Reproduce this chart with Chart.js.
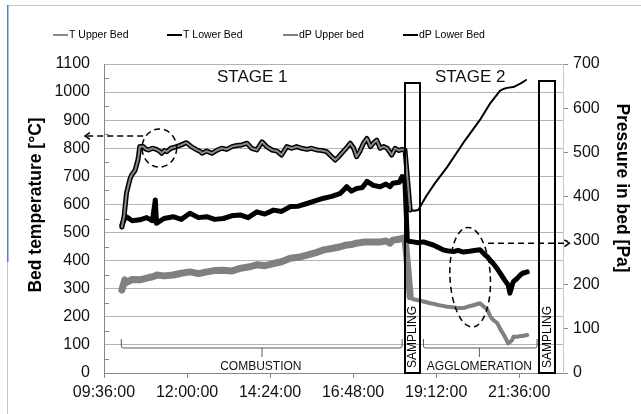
<!DOCTYPE html>
<html>
<head>
<meta charset="utf-8">
<script src="https://cdn.jsdelivr.net/npm/chart.js@4.4.1/dist/chart.umd.min.js"></script>
<style>
  html, body { margin: 0; padding: 0; background: #fff; }
  #wrap { position: relative; width: 641px; height: 414px; }
</style>
</head>
<body>
<div id="wrap"><canvas id="c" width="641" height="414"></canvas></div>
<script>
// time in minutes since midnight (09:36 = 576)
const tTime = [607, 611, 615, 621, 624, 630, 635, 638, 644, 648, 653, 660, 667, 672, 676, 681, 685, 692, 702, 710,
  719, 728, 737, 742, 746, 754, 763, 771, 780, 789, 798, 806, 815, 824, 832, 841, 850, 858, 867, 876,
  884, 893, 902, 910, 919, 928, 936, 945, 954, 962, 971, 977, 983, 988, 996, 1003, 1009, 1014, 1020, 1026,
  1032, 1038, 1044, 1049, 1055, 1061, 1067, 1075, 1081, 1087, 1093, 1098, 1102, 1107,
  1114, 1121, 1135, 1150, 1171, 1199, 1228, 1246, 1263, 1270, 1275, 1286, 1298, 1308]
const tUpper = [520, 560, 640, 690, 705, 722, 760, 806, 806, 798, 794, 800, 796, 790, 782, 792, 788, 800, 806, 812,
  820, 805, 794, 790, 782, 790, 782, 792, 800, 796, 806, 810, 812, 818, 800, 794, 823, 806, 794, 790,
  776, 806, 800, 806, 800, 796, 800, 794, 792, 788, 770, 758, 770, 782, 800, 818, 800, 770, 790, 818,
  835, 806, 820, 829, 800, 806, 800, 776, 800, 792, 796, 794, 700, 580,
  null, null, null, null, null, null, null, null, null, null, null, null, null, null]
const tLower = [520, 560, 640, 690, 705, 722, 760, 806, 806, 798, 794, 800, 796, 790, 782, 792, 788, 800, 806, 812,
  820, 805, 794, 790, 782, 790, 782, 792, 800, 796, 806, 810, 812, 818, 800, 794, 823, 806, 794, 790,
  776, 806, 800, 806, 800, 796, 800, 794, 792, 788, 770, 758, 770, 782, 800, 818, 800, 770, 790, 818,
  835, 806, 820, 829, 800, 806, 800, 776, 800, 792, 796, 794, 700, 580,
  578, 580, 630, 676, 733, 819, 901, 961, 1005, 1012, 1015, 1018, 1030, 1043]

const dpTime = [607, 612, 615, 625, 638, 650, 660, 665, 667, 680, 696, 710, 725, 740, 754, 768, 783, 797, 812, 826,
  841, 855, 870, 884, 899, 913, 928, 942, 957, 971, 986, 997, 1005, 1014, 1024, 1032, 1043, 1055, 1065, 1072,
  1077, 1088, 1093, 1098, 1102, 1107, 1112, 1121, 1130, 1142, 1147, 1155, 1164, 1171, 1182, 1190, 1199, 1206, 1215, 1228,
  1235, 1241, 1246, 1251, 1258, 1263, 1270, 1277, 1280, 1284, 1286, 1293, 1298, 1302, 1310]
const dpUpper = [188, 211, 205, 212, 211, 215, 218, 220, 222, 220, 222, 226, 229, 225, 229, 232, 233, 231, 237, 240,
  245, 243, 248, 252, 260, 262, 267, 272, 279, 282, 286, 290, 291, 294, 296, 297, 297, 297, 299, 294,
  301, 303, 305, 305, 250, 173, 167, 165, 162, 158, 157, 154, 152, 150, 149, 147, 147, 150, 153, 158,
  150, 143, 128, 120, 113, 100, 85, 67, 70, 75, 82, 82, 84, 84, 86]
const dpLower = [335, 350, 354, 345, 347, 352, 345, 392, 339, 350, 354, 348, 362, 352, 354, 348, 350, 356, 358, 352,
  365, 360, 369, 366, 377, 378, 384, 390, 396, 400, 407, 422, 412, 418, 420, 434, 425, 422, 428, 422,
  430, 432, 445, 430, 301, 298, 297, 295, 297, 292, 290, 285, 279, 277, 275, 278, 274, 275, 277, 279,
  270, 263, 255, 248, 236, 226, 212, 199, 181, 200, 207, 215, 222, 226, 229]

const seriesLabels = ['T Upper Bed', 'T Lower Bed', 'dP Upper bed', 'dP Lower Bed']
const seriesColors = ['#8a8a8a', '#000000', '#808080', '#000000']

const X_MIN = 576, X_MAX = 1372, X_STEP = 144
const FONT = "'Liberation Sans', Arial, sans-serif"
const STAGE2_START = 1107

function hhmm(m) {
  const h = Math.floor(m / 60), mm = Math.round(m % 60)
  return String(h).padStart(2, '0') + ':' + String(mm).padStart(2, '0') + ':00'
}

const pts = (xs, ys) => xs.map((x, i) => ({ x, y: ys[i] }))

function dashedArrow(ctx, x1, y1, x2, y2) {
  ctx.save()
  ctx.strokeStyle = '#000'
  ctx.lineWidth = 1.5
  ctx.setLineDash([6, 4])
  ctx.beginPath(); ctx.moveTo(x1, y1); ctx.lineTo(x2, y2); ctx.stroke()
  ctx.setLineDash([])
  const a = Math.atan2(y2 - y1, x2 - x1), L = 6
  ctx.beginPath()
  ctx.moveTo(x2 - L * Math.cos(a - 0.6), y2 - L * Math.sin(a - 0.6))
  ctx.lineTo(x2, y2)
  ctx.lineTo(x2 - L * Math.cos(a + 0.6), y2 - L * Math.sin(a + 0.6))
  ctx.stroke()
  ctx.restore()
}

function dashedEllipse(ctx, cx, cy, rx, ry, rot) {
  ctx.save()
  ctx.strokeStyle = '#000'
  ctx.lineWidth = 1.5
  ctx.setLineDash([6, 4])
  ctx.beginPath(); ctx.ellipse(cx, cy, rx, ry, rot, 0, Math.PI * 2); ctx.stroke()
  ctx.restore()
}

function bracket(ctx, X, Y, m1, m2, mc) {
  const x1 = X(m1), x2 = X(m2), xc = X(mc)
  const top = Y(121), mid = Y(89), tip = Y(57)
  ctx.beginPath()
  ctx.moveTo(x1, top); ctx.lineTo(x1, mid - 2); ctx.quadraticCurveTo(x1, mid, x1 + 2, mid)
  ctx.lineTo(x2 - 2, mid); ctx.quadraticCurveTo(x2, mid, x2, mid - 2); ctx.lineTo(x2, top)
  ctx.moveTo(xc, mid); ctx.lineTo(xc, tip)
  ctx.stroke()
}

const extras = {
  id: 'extras',
  beforeDraw(chart) {
    const ctx = chart.ctx
    ctx.save()
    // screenshot frame
    ctx.fillStyle = '#c8c8c8'
    ctx.fillRect(7, 5, 634, 1)
    ctx.fillRect(7, 262, 1, 152)
    ctx.fillStyle = '#4f81bd'
    ctx.fillRect(7, 5, 1.5, 257)
    ctx.restore()
  },
  afterDatasetsDraw(chart) {
    const ctx = chart.ctx
    const X = v => chart.scales.x.getPixelForValue(v)
    const Y = v => chart.scales.y.getPixelForValue(v)
    const Y2 = v => chart.scales.y2.getPixelForValue(v)
    const area = chart.chartArea
    ctx.save()

    // minor ticks on left axis
    ctx.strokeStyle = '#868686'; ctx.lineWidth = 1
    for (let v = 50; v < 1100; v += 100) {
      ctx.beginPath(); ctx.moveTo(area.left, Math.round(Y(v)) + 0.5); ctx.lineTo(area.left + 5, Math.round(Y(v)) + 0.5); ctx.stroke()
    }

    // legend
    const legX = [53, 167, 283, 403]
    ctx.font = '10.5px ' + FONT
    ctx.textBaseline = 'middle'
    seriesLabels.forEach((lab, i) => {
      ctx.strokeStyle = seriesColors[i]; ctx.lineWidth = 2
      ctx.beginPath(); ctx.moveTo(legX[i], 35); ctx.lineTo(legX[i] + 15, 35); ctx.stroke()
      ctx.fillStyle = '#000'; ctx.textAlign = 'left'
      ctx.fillText(lab, legX[i] + 16, 35)
    })

    // axis titles
    ctx.fillStyle = '#000'
    ctx.font = 'bold 17.5px ' + FONT
    ctx.textAlign = 'center'
    ctx.save(); ctx.translate(36, 205); ctx.rotate(-Math.PI / 2); ctx.fillText('Bed temperature [°C]', 0, 0); ctx.restore()
    ctx.save(); ctx.translate(622, 188); ctx.rotate(Math.PI / 2); ctx.fillText('Pressure in bed [Pa]', 0, 0); ctx.restore()

    // stage labels
    ctx.font = '17px ' + FONT
    ctx.fillStyle = '#111'
    ctx.fillText('STAGE 1', X(833), Y(1054))
    ctx.fillText('STAGE 2', X(1211), Y(1054))

    // sampling boxes
    ctx.strokeStyle = '#000'; ctx.lineWidth = 2
    const boxes = [[1098, 1124, 1032], [1331, 1358, 1039]]
    boxes.forEach(([m1, m2, top]) => {
      const x1 = Math.round(X(m1)), x2 = Math.round(X(m2)), y1 = Math.round(Y(top)), y2 = Math.round(Y(0))
      ctx.strokeRect(x1, y1, x2 - x1, y2 - y1)
      ctx.save()
      ctx.translate((x1 + x2) / 2 + 0.5, Y(128))
      ctx.rotate(-Math.PI / 2)
      ctx.font = '12px ' + FONT; ctx.fillStyle = '#000'; ctx.textAlign = 'center'; ctx.textBaseline = 'middle'
      ctx.fillText('SAMPLING', 0, 0)
      ctx.restore()
    })

    // phase brackets
    ctx.strokeStyle = '#595959'; ctx.lineWidth = 1
    bracket(ctx, X, Y, 606, 1093, 850)
    bracket(ctx, X, Y, 1130, 1327, 1227)
    ctx.font = '12px ' + FONT; ctx.fillStyle = '#111'; ctx.textAlign = 'center'; ctx.textBaseline = 'middle'
    ctx.fillText('COMBUSTION', X(848), Y(21))
    ctx.fillText('AGGLOMERATION', X(1227), Y(21))

    // highlighted regions
    dashedEllipse(ctx, X(672), Y(801), (X(702) - X(642)) / 2, (Y(733) - Y(869)) / 2, 0)
    dashedArrow(ctx, X(644), Y(844), X(543), Y(844))
    dashedEllipse(ctx, X(1211), Y2(217), (X(1246) - X(1176)) / 2, (Y2(104) - Y2(330)) / 2, -0.05)
    dashedArrow(ctx, X(1242), Y2(294), X(1383), Y2(294))

    ctx.restore()
  }
}

new Chart(document.getElementById('c'), {
  type: 'line',
  data: {
    datasets: [
      { label: seriesLabels[0], data: pts(tTime, tUpper), borderColor: seriesColors[0], borderWidth: 2, yAxisID: 'y', order: 0 },
      {
        label: seriesLabels[1], data: pts(tTime, tLower), borderColor: seriesColors[1], yAxisID: 'y', order: 1,
        borderWidth: 5,
        segment: { borderWidth: c => c.p0.parsed.x >= STAGE2_START ? 2 : 5 },
      },
      {
        label: seriesLabels[2], data: pts(dpTime, dpUpper), borderColor: seriesColors[2], yAxisID: 'y2', order: 3,
        borderWidth: 7,
        segment: { borderWidth: c => c.p0.parsed.x >= STAGE2_START ? 4 : 7 },
      },
      {
        label: seriesLabels[3], data: pts(dpTime, dpLower), borderColor: seriesColors[3], yAxisID: 'y2', order: 2,
        borderWidth: 5,
      },
    ],
  },
  options: {
    responsive: false,
    animation: false,
    devicePixelRatio: 1,
    layout: { padding: { top: 64, left: 0, right: 0, bottom: 0 } },
    elements: { point: { radius: 0 }, line: { tension: 0, borderJoinStyle: 'round', borderCapStyle: 'round' } },
    plugins: { legend: { display: false }, tooltip: { enabled: false } },
    scales: {
      x: {
        type: 'linear', min: X_MIN, max: X_MAX,
        afterBuildTicks: s => { s.ticks = s.ticks.filter(t => (t.value - X_MIN) % X_STEP === 0) },
        afterFit: s => { s.height = 41 },
        ticks: { stepSize: X_STEP, includeBounds: false, callback: v => hhmm(v), font: { family: FONT, size: 16 }, color: '#111', padding: 5, maxRotation: 0, autoSkip: false },
        grid: { drawOnChartArea: false, drawTicks: true, tickLength: 5, color: '#868686' },
        border: { color: '#868686' },
      },
      y: {
        position: 'left', min: 0, max: 1100,
        afterFit: s => { s.width = 104 },
        ticks: { stepSize: 100, callback: v => String(v), font: { family: FONT, size: 16 }, color: '#111', padding: 14 },
        grid: { color: '#b3b3b3', drawTicks: false },
        border: { color: '#868686' },
      },
      y2: {
        position: 'right', min: 0, max: 700,
        afterFit: s => { s.width = 78 },
        ticks: { stepSize: 100, callback: v => String(v), font: { family: FONT, size: 16 }, color: '#111', padding: 5 },
        grid: { drawOnChartArea: false, drawTicks: true, tickLength: 5, color: '#868686' },
        border: { color: '#c8c8c8' },
      },
    },
  },
  plugins: [extras],
})
</script>
</body>
</html>
